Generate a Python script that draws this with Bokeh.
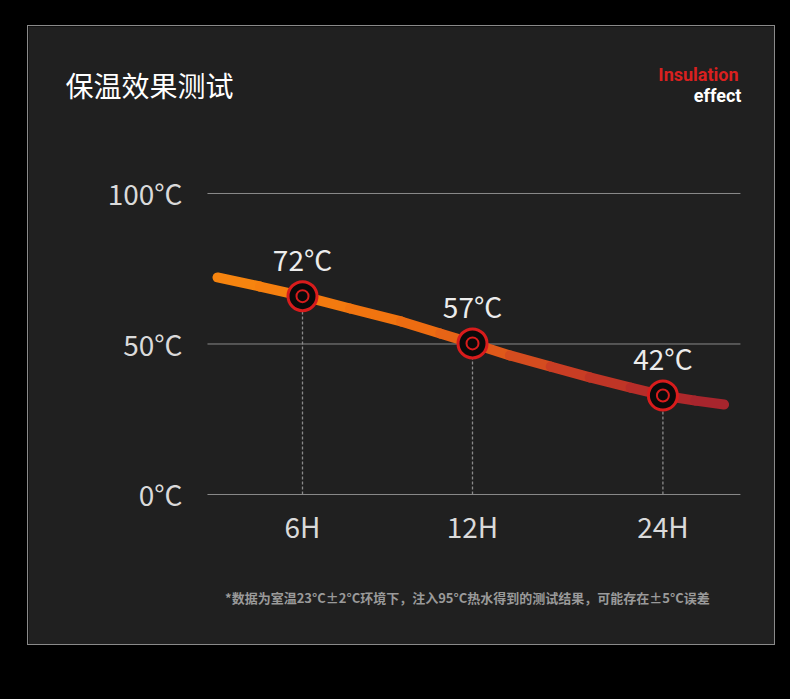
from bokeh.plotting import figure
from bokeh.models import Range1d
from bokeh.embed import file_html
from bokeh.resources import INLINE
from bokeh.core.properties import value

# ---------------- data ----------------
hours = ["6H", "12H", "24H"]
point_x = [1.0, 2.0, 3.12]
point_temp = [65.9, 50.2, 32.9]
point_labels = ["72°C", "57°C", "42°C"]

curve_x = [0.50, 0.75, 1.0, 1.28, 1.58, 1.81, 2.0, 2.22, 2.46, 2.69, 2.93, 3.12, 3.31, 3.48]
curve_temp = [72.1, 69.1, 65.9, 61.8, 57.5, 53.5, 50.2, 46.2, 42.5, 38.9, 35.5, 32.9, 31.2, 29.9]

y_ticks = [0, 50, 100]
y_tick_labels = ["0°C", "50°C", "100°C"]

title_text = "保温效果测试"
badge_top = "Insulation"
badge_bottom = "effect"
footnote = "*数据为室温23°C±2°C环境下，注入95°C热水得到的测试结果，可能存在±5°C误差"

# ---------------- style ----------------
PANEL = "#202020"
CJK = "Noto Sans CJK SC"
color_stops = [(0.5, (247, 135, 15)), (1.6, (240, 112, 15)), (2.0, (228, 96, 24)),
               (2.6, (200, 60, 36)), (3.12, (178, 42, 42)), (3.48, (163, 36, 46))]


def grad(x):
    for (xa, ca), (xb, cb) in zip(color_stops[:-1], color_stops[1:]):
        if x <= xb:
            t = max(0.0, min(1.0, (x - xa) / (xb - xa)))
            c = [round(a + (b - a) * t) for a, b in zip(ca, cb)]
            return "#%02x%02x%02x" % tuple(c)
    return "#%02x%02x%02x" % color_stops[-1][1]


# extent of the plotting area (grid lines), in x data units
GRID_X0, GRID_X1 = 0.441, 3.576
YLABEL_X = 0.294

p = figure(width=748, height=620,
           x_range=Range1d(-0.6118, 3.7882), y_range=Range1d(-50.50, 155.48),
           x_axis_type=None, y_axis_type=None,
           output_backend="svg", toolbar_location=None, min_border=0,
           background_fill_color=PANEL, border_fill_color=PANEL,
           outline_line_color=None,
           styles={"margin": "25px 0px 0px 27px", "border": "1px solid #8a8a8a"})

# horizontal grid lines at the temperature ticks
p.segment(x0=[GRID_X0] * len(y_ticks), y0=y_ticks, x1=[GRID_X1] * len(y_ticks), y1=y_ticks,
          line_color="#8a8a8a", line_width=1)

# y tick labels
p.text(x=[YLABEL_X] * len(y_ticks), y=y_ticks, text=y_tick_labels,
       text_align="right", text_baseline="middle",
       text_font=value(CJK), text_font_size="28px", text_color="#dadada")

# x tick labels
p.text(x=point_x, y=[0] * len(point_x), text=hours, y_offset=32,
       text_align="center", text_baseline="middle",
       text_font=value(CJK), text_font_size="28px", text_color="#dadada")

# dashed drop lines
p.segment(x0=point_x, y0=[0] * len(point_x), x1=point_x, y1=point_temp,
          line_color="#8a8a8a", line_width=1.3, line_dash="3 2")

# gradient curve
seg_colors = [grad((a + b) / 2) for a, b in zip(curve_x[:-1], curve_x[1:])]
p.segment(x0=curve_x[:-1], y0=curve_temp[:-1], x1=curve_x[1:], y1=curve_temp[1:],
          line_color=seg_colors, line_width=10, line_cap="round")

# markers
p.scatter(point_x, point_temp, size=29, fill_color="#0a0a0a",
          line_color="#d81c1c", line_width=3)
p.scatter(point_x, point_temp, size=12, fill_color="#0a0a0a",
          line_color="#d81c1c", line_width=2)

# value labels
p.text(x=point_x, y=point_temp, text=point_labels, y_offset=-37,
       text_align="center", text_baseline="alphabetic",
       text_font=value(CJK), text_font_size="28px", text_color="#ececec")

# header texts
p.text(x=[-0.394], y=[136.2], text=[title_text], text_align="left", text_baseline="middle",
       text_font=value(CJK), text_font_size="28px", text_color="#ffffff")
p.text(x=[3.565], y=[139.5], text=[badge_top], text_align="right", text_baseline="middle",
       text_font=value("Roboto"), text_font_size="18px", text_font_style="bold",
       text_color="#d9201f")
p.text(x=[3.582], y=[132.6], text=[badge_bottom], text_align="right", text_baseline="middle",
       text_font=value("Roboto"), text_font_size="18px", text_font_style="bold",
       text_color="#ffffff")

# footnote
p.text(x=[1.97], y=[-34.2], text=[footnote], text_align="center", text_baseline="middle",
       text_font=value(CJK), text_font_size="13px", text_font_style="bold",
       text_color="#9a9a9a")

html = file_html(p, INLINE, title="保温效果测试")
html = html.replace("<head>", "<head><style>body{background-color:#000000;}</style>", 1)
open("out.html", "w").write(html)
